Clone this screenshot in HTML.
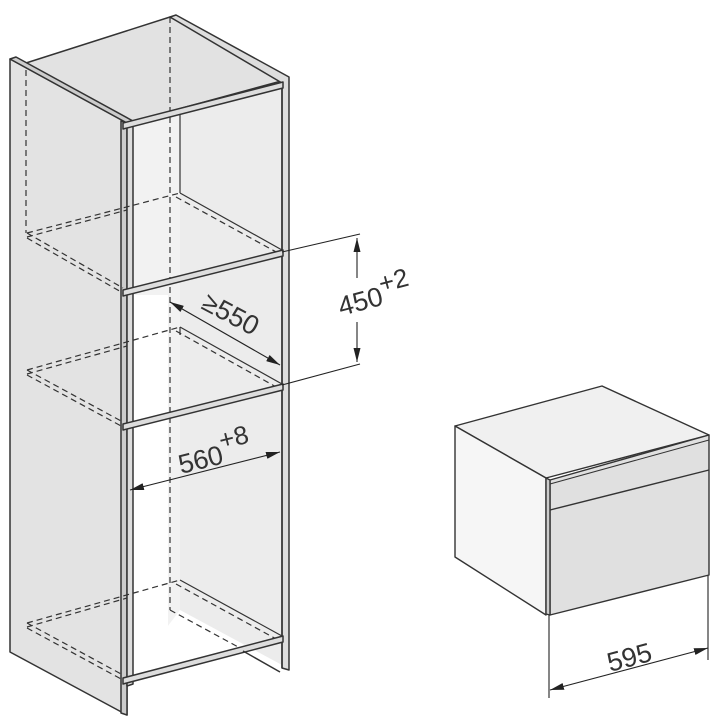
<!DOCTYPE html>
<html><head><meta charset="utf-8"><style>html,body{margin:0;padding:0;background:#fff}svg{display:block}</style></head>
<body>
<svg width="720" height="720" viewBox="0 0 720 720" xmlns="http://www.w3.org/2000/svg" font-family="Liberation Sans, sans-serif">
<defs>
<marker id="a" viewBox="0 0 14 7" refX="14" refY="3.5" markerWidth="14" markerHeight="7" orient="auto" markerUnits="userSpaceOnUse"><path d="M0,0L14,3.5L0,7z" fill="#222"/></marker>
<marker id="b" viewBox="0 0 14 7" refX="0" refY="3.5" markerWidth="14" markerHeight="7" orient="auto" markerUnits="userSpaceOnUse"><path d="M14,0L0,3.5L14,7z" fill="#222"/></marker>
</defs>
<g stroke="#333" stroke-width="1.5" stroke-linejoin="round">
<!-- interior -->
<polygon points="180,36 282,83 282,665 180,610" fill="#ececec" stroke="none"/>
<polygon points="127,128 180,110 180,610 127,680" fill="#f2f2f2" stroke="none"/>
<rect x="127" y="295" width="41" height="385" fill="#fff" stroke="none"/>
<!-- top face -->
<polygon points="26,63 170,17 285,80 127,123" fill="#e2e2e2"/>
<!-- right panel -->
<polygon points="170,17 176,15 289,77 289,670 282,668 282,83" fill="#ddd"/>
<line x1="282" y1="83" x2="282" y2="668"/>
<line x1="180" y1="108" x2="180" y2="193" stroke-width="1.2"/>
<line x1="180" y1="327" x2="180" y2="335" stroke-width="1.2"/>
<!-- left panel -->
<polygon points="10,59 127,123 127,715 10,652" fill="#e3e3e3"/>
<polygon points="10,59 16,57 133,121 127,123" fill="#ccc"/>
<polygon points="121,121 127,123 127,715 121,713" fill="#ccc"/>
<polygon points="127,123 133,121 133,684 127,686" fill="#ddd"/>
<!-- dashed verticals -->
<line x1="170" y1="17" x2="170" y2="610" stroke-dasharray="6,4" stroke-width="1.2"/>
<line x1="26" y1="70" x2="26" y2="233" stroke-dasharray="6,4" stroke-width="1.2"/>
<g fill="none" stroke-width="1.2">
<line x1="180" y1="193" x2="282" y2="250"/>
<line x1="176" y1="197" x2="278" y2="253" stroke-dasharray="6,4"/>
<line x1="27" y1="233" x2="180" y2="193" stroke-dasharray="6,4"/>
<line x1="27" y1="237" x2="127" y2="210" stroke-dasharray="6,4"/>
<line x1="27" y1="233" x2="123" y2="288" stroke-dasharray="6,4"/>
<line x1="27" y1="238" x2="123" y2="293" stroke-dasharray="6,4"/>
<line x1="180" y1="327" x2="282" y2="384"/>
<line x1="176" y1="331" x2="278" y2="388" stroke-dasharray="6,4"/>
<line x1="27" y1="370" x2="180" y2="327" stroke-dasharray="6,4"/>
<line x1="27" y1="374" x2="127" y2="346" stroke-dasharray="6,4"/>
<line x1="27" y1="370" x2="123" y2="422" stroke-dasharray="6,4"/>
<line x1="27" y1="375" x2="123" y2="427" stroke-dasharray="6,4"/>
<line x1="180" y1="580" x2="282" y2="636"/>
<line x1="176" y1="584" x2="278" y2="640" stroke-dasharray="6,4"/>
<line x1="27" y1="623" x2="180" y2="580" stroke-dasharray="6,4"/>
<line x1="27" y1="627" x2="127" y2="598" stroke-dasharray="6,4"/>
<line x1="27" y1="623" x2="123" y2="675" stroke-dasharray="6,4"/>
<line x1="27" y1="628" x2="123" y2="680" stroke-dasharray="6,4"/>
<line x1="170" y1="610" x2="240" y2="648" stroke-dasharray="6,4"/>
</g>
<!-- front rails -->
<polygon points="123,123 283,82 283,88 123,129" fill="#ddd"/>
<polygon points="123,290 283,250 283,256 123,296" fill="#ddd"/>
<polygon points="123,424 283,384 283,390 123,430" fill="#ddd"/>
<polygon points="123,678 283,636 283,642 123,684" fill="#ddd"/>
<line x1="243" y1="651" x2="280" y2="672"/>
</g>
<!-- dimensions cabinet -->
<g stroke="#222" stroke-width="1.1" fill="none">
<line x1="282" y1="252" x2="360" y2="234"/>
<line x1="282" y1="385" x2="360" y2="364"/>
<line x1="357" y1="238" x2="357" y2="278" marker-start="url(#b)"/>
<line x1="357" y1="322" x2="357" y2="362" marker-end="url(#a)"/>
<line x1="170" y1="302" x2="280" y2="365" marker-start="url(#b)" marker-end="url(#a)"/>
<line x1="130" y1="490" x2="280" y2="452" marker-start="url(#b)" marker-end="url(#a)"/>
<line x1="549" y1="615" x2="549" y2="698"/>
<line x1="708" y1="575" x2="708" y2="660"/>
<line x1="550" y1="690" x2="708" y2="648" marker-start="url(#b)" marker-end="url(#a)"/>
</g>
<g fill="#333" font-size="27">
<text transform="translate(341,316) rotate(-15)">450<tspan font-size="26" dy="-12">+2</tspan></text>
<text transform="translate(200,308) rotate(28)">≥550</text>
<text transform="translate(181,474) rotate(-14)">560<tspan dy="-14" font-size="26">+8</tspan></text>
<text transform="translate(610,672) rotate(-15)">595</text>
</g>
<!-- oven -->
<g stroke="#333" stroke-width="1.4" stroke-linejoin="round">
<polygon points="455,426 602,386 709,435 546,478" fill="#f0f0f0"/>
<polygon points="455,426 546,478 546,615 455,557" fill="#f6f6f6"/>
<polygon points="550,480 709,435 709,575 550,615" fill="#e0e0e0"/>
<polygon points="546,478 550,480 550,615 546,614" fill="#ccc"/>
<line x1="550" y1="510" x2="709" y2="470"/>
<line x1="550" y1="484" x2="709" y2="440" stroke-width="1"/>
</g>
</svg>
</body></html>
